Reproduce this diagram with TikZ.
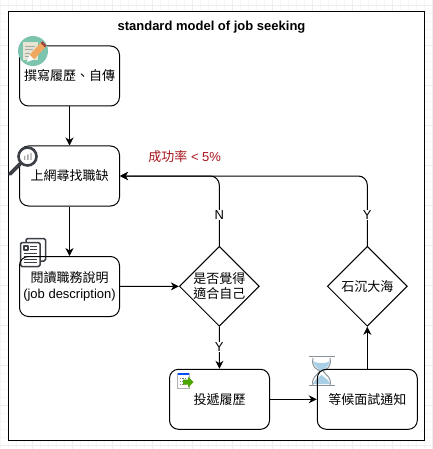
\documentclass[tikz,border=0pt]{standalone}
\usepackage{fontspec}
\setmainfont{Liberation Sans}
\newfontfamily\cjk{Noto Sans CJK TC}
\usetikzlibrary{arrows.meta,shapes.geometric}
\definecolor{gridc}{HTML}{EEEEEE}
\definecolor{gridm}{HTML}{F7F7F7}
\definecolor{redtxt}{HTML}{A8141C}
\definecolor{icondark}{HTML}{3C4046}
\definecolor{tealc}{HTML}{7CC4AE}
\definecolor{paperc}{HTML}{E6E4D2}
\definecolor{pencilc}{HTML}{F0A860}
\definecolor{glassc}{HTML}{A9CFE6}
\definecolor{glassf}{HTML}{8A9299}
\tikzset{
  x=1pt,y=-1pt,
  flowbox/.style={draw=black,line width=1pt,rounded corners=9pt,minimum width=100pt,minimum height=60pt,inner sep=0pt,align=center,font=\fontsize{13}{15.5}\selectfont\cjk},
  decide/.style={draw=black,line width=1pt,diamond,aspect=1,minimum width=80pt,minimum height=80pt,inner sep=0pt,align=center,font=\fontsize{13}{15.5}\selectfont\cjk},
  flow/.style={draw=black,line width=1pt,-{Stealth[length=8pt,width=8pt,inset=2.5pt]},rounded corners=9pt},
  edgelabel/.style={fill=white,inner sep=1pt,font=\fontsize{13}{15}\selectfont},
  textonly/.style={inner sep=0pt,align=center},
}
\begin{document}
\begin{tikzpicture}
\useasboundingbox (0,0) rectangle (432,449);
\fill[white] (0,0) rectangle (432,449);
\foreach \v in {0,8,...,432} \draw[gridm,line width=.5pt] (\v,0) -- (\v,449);
\foreach \v in {5,13,...,449} \draw[gridm,line width=.5pt] (0,\v) -- (432,\v);
\foreach \v in {32,72,...,432} \draw[gridc,line width=.7pt] (\v,0) -- (\v,449);
\foreach \v in {5,45,...,445} \draw[gridc,line width=.7pt] (0,\v) -- (432,\v);
\node[draw=black,fill=white,line width=1pt,minimum width=416.5pt,minimum height=428.5pt,inner sep=0pt] (frame) at (216.25,225.75) {};
\node[textonly,font=\fontsize{13}{15}\bfseries\selectfont] (title) at (211.5,27) {standard model of job seeking};

% icon behind boxes: documents
\begin{scope}[line join=round]
\draw[icondark,line width=1.5pt,fill=white,rounded corners=1.5pt] (26,238.5) -- (45.5,238.5) -- (45.5,261) -- (26,261) -- cycle;
\draw[icondark,line width=1.5pt,fill=white,rounded corners=1.5pt] (20.5,242.5) -- (40,242.5) -- (40,266.5) -- (20.5,266.5) -- cycle;
\draw[icondark,line width=1.2pt] (24,246) rectangle (28,250);
\draw[icondark,line width=1.2pt] (30,246.5) -- (37,246.5) (30,249.5) -- (37,249.5) (23.5,253.5) -- (37,253.5) (23.5,256.5) -- (37,256.5) (23.5,259.5) -- (37,259.5) (23.5,262.5) -- (37,262.5);
\end{scope}
% hourglass behind box
\begin{scope}
\fill[glassc] (313,361) .. controls (314,366) and (318,369) .. (321.5,371) .. controls (325,369) and (329,366) .. (330,361) .. controls (326,364) and (317,364) .. cycle;
\fill[glassc] (313,384) .. controls (314,380) and (318,378) .. (321.5,375) .. controls (325,378) and (329,380) .. (330,384) -- cycle;
\draw[glassf,line width=1pt] (313,358) .. controls (311,368) and (317,369) .. (320,371) .. controls (317,375) and (311,378) .. (313,385);
\draw[glassf,line width=1pt] (330,358) .. controls (332,368) and (326,369) .. (323,371) .. controls (326,375) and (332,378) .. (330,385);
\draw[glassf,line width=1.6pt] (309,356.5) -- (334.5,356.5) (309,385.5) -- (334.5,385.5);
\end{scope}

\node[flowbox] (write) at (69.5,76) {撰寫履歷、自傳};
\node[flowbox] (search) at (69.5,176) {上網尋找職缺};
\node[flowbox] (read) at (69.5,286.5) {閱讀職務說明\\{\rmfamily (job description)}};
\node[decide] (fit) at (219.3,286.3) {是否覺得\\適合自己};
\node[decide] (sink) at (367.3,286.3) {石沉大海};
\node[flowbox] (send) at (219.5,399.3) {投遞履歷};
\node[flowbox] (wait) at (367.3,399.3) {等候面試通知};

\draw[flow] (write) -- (search);
\draw[flow] (search) -- (read);
\draw[flow] (read) -- (fit);
\draw[flow] (send) -- (wait);
\draw[flow] (wait) -- (sink);
\draw[flow] (fit.north) |- (search.east);
\draw[flow] (sink.north) |- (search.east);
\draw[flow] (fit) -- (send);
\node[edgelabel] (n) at (219.3,215) {N};
\node[edgelabel] (y1) at (367.3,215) {Y};
\node[edgelabel] (y2) at (219.3,347) {Y};
\node[textonly,text=redtxt,font=\fontsize{13}{15}\selectfont] (rate) at (184.7,157) {{\cjk 成功率} < 5\%};

% pencil icon
\begin{scope}
\fill[tealc] (33,51) circle (15);
\fill[paperc] (23,42.5) -- (38,42.5) -- (38,60) -- (23,60) -- cycle;
\draw[gray!70,line width=.7pt] (25,46) -- (35,46) (25,49.5) -- (33,49.5) (25,53) -- (30,53) (25,56.5) -- (29,56.5);
\fill[pencilc] (40.5,43) -- (45,47.5) -- (34,59.5) -- (29.5,55) -- cycle;
\fill[red!55!black!75] (40.5,43) -- (42.5,41.5) -- (46.5,45.5) -- (45,47.5) -- cycle;
\fill[white] (29.5,55) -- (34,59.5) -- (27,62) -- cycle;
\end{scope}
% magnifier icon
\begin{scope}
\draw[icondark,line width=3.6pt,line cap=round] (21,163) -- (10,174);
\draw[icondark,line width=2.6pt,fill=white] (27.5,156.5) circle (9);
\fill[gray!70] (24,156) rectangle (25.3,160) (27.2,154.5) rectangle (28.5,160) (30.4,153) rectangle (31.7,160);
\end{scope}
% send icon
\begin{scope}
\draw[gray!60,line width=.6pt,fill=white] (177.5,373) rectangle (189,388);
\fill[blue!70!cyan] (177.5,373) rectangle (189,375.2);
\draw[gray,line width=.8pt,dash pattern=on 1.5pt off 1pt] (179.5,378) -- (186,378) (179.5,381) -- (184,381) (179.5,384) -- (185,384);
\fill[green!50!black!70!yellow] (183,379.5) -- (188,379.5) -- (188,376.5) -- (193.5,382) -- (188,387.5) -- (188,384.5) -- (183,384.5) -- cycle;
\end{scope}
\end{tikzpicture}
\end{document}
